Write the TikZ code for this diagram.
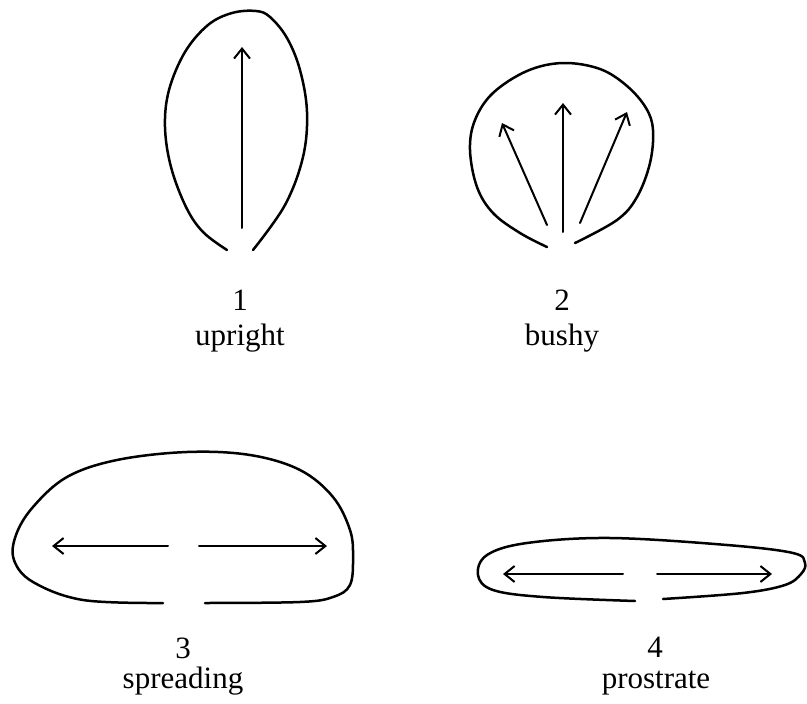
\documentclass[tikz,border=0pt]{standalone}
\usepackage{fontspec}
\setmainfont{Liberation Serif}
\usetikzlibrary{arrows.meta}
\begin{document}
\begin{tikzpicture}[x=1pt,y=-1pt,
  outline/.style={line width=2.5pt, line cap=round, line join=round},
  growth/.style={line width=2pt, line cap=round, -{Straight Barb[length=10pt,width=16pt,line width=2pt]}},
  lbl/.style={anchor=base, inner sep=0pt, font=\fontsize{31}{37}\selectfont}]
\useasboundingbox (0,0) rectangle (807,704);

% ---- 1 upright ----
\draw[outline] plot[smooth, tension=0.6] coordinates {(227,250) (203,232) (186,207) (171,167) (165,127) (169,90) (185,52) (208,25) (232,13) (256,11) (270,17) (287,38) (300,70) (307,112) (303,157) (285,205) (253,250)};
\coordinate (u1s) at (242,228); \coordinate (u1e) at (242,47);
\draw[growth] (u1s) -- (u1e);
\node[lbl] (n1) at (240,310) {1};
\node[lbl] (t1) at (240,345) {upright};

% ---- 2 bushy ----
\draw[outline] plot[smooth, tension=0.6] coordinates {(547,247) (520,233) (493,213) (477,187) (470,150) (475,120) (493,93) (527,71) (563,63) (600,69) (627,86) (646,108) (653,130) (650,163) (637,197) (617,220) (575,243)};
\coordinate (b2s) at (563,232); \coordinate (b2e) at (563,103);
\coordinate (b2ls) at (547,225); \coordinate (b2le) at (502,123);
\coordinate (b2rs) at (580,223); \coordinate (b2re) at (627,112);
\draw[growth] (b2s) -- (b2e);
\draw[growth] (b2ls) -- (b2le);
\draw[growth] (b2rs) -- (b2re);
\node[lbl] (n2) at (562,310) {2};
\node[lbl] (t2) at (562,345) {bushy};

% ---- 3 spreading ----
\draw[outline] plot[smooth, tension=0.6] coordinates {(163,603) (83,600) (33,582) (14,560) (16,535) (33,507) (67,477) (117,460) (187,452) (250,455) (300,470) (333,497) (350,530) (353,557) (350,585) (333,597) (300,602) (205,603)};
\coordinate (s3ls) at (168,546); \coordinate (s3le) at (52,546);
\coordinate (s3rs) at (199,546); \coordinate (s3re) at (327,546);
\draw[growth] (s3ls) -- (s3le);
\draw[growth] (s3rs) -- (s3re);
\node[lbl] (n3) at (183,658) {3};
\node[lbl] (t3) at (183,688) {spreading};

% ---- 4 prostrate ----
\draw[outline] plot[smooth, tension=0.6] coordinates {(635,601) (543,597) (493,590) (478,575) (487,555) (527,543) (610,538) (727,545) (793,553) (805,563) (801,574) (785,585) (743,593) (663,599)};
\coordinate (p4ls) at (623,574); \coordinate (p4le) at (503,574);
\coordinate (p4rs) at (657,574); \coordinate (p4re) at (772,574);
\draw[growth] (p4ls) -- (p4le);
\draw[growth] (p4rs) -- (p4re);
\node[lbl] (n4) at (655,657) {4};
\node[lbl] (t4) at (656,688) {prostrate};
\end{tikzpicture}
\end{document}
